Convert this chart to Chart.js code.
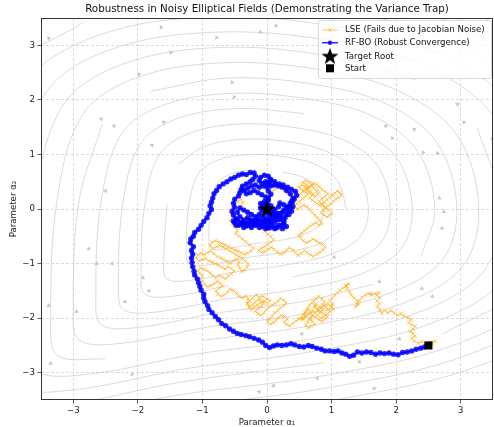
<!DOCTYPE html>
<html>
<head>
<meta charset="utf-8">
<script src="https://cdn.jsdelivr.net/npm/chart.js@4.4.1/dist/chart.umd.min.js"></script>
<style>
  html, body { margin: 0; padding: 0; background: #fff; }
  canvas { display: block; }
</style>
</head>
<body>
<canvas id="chart" width="494" height="427"></canvas>
<script>
// ---- data ----
const titleText = 'Robustness in Noisy Elliptical Fields (Demonstrating the Variance Trap)';
const xTicks = [-3, -2, -1, 0, 1, 2, 3];
const yTicks = [-3, -2, -1, 0, 1, 2, 3];
const targetRoot = [0, 0];
const startPoint = [2.5, -2.5];

// LSE trajectory (noisy random walk)
const lsePath = [
  [2.5,-2.5],[2.56,-2.46],[2.6,-2.42],[2.53,-2.44],[2.46,-2.47],[2.4,-2.43],[2.34,-2.46],[2.28,-2.42],[2.24,-2.37],[2.29,-2.33],
  [2.26,-2.28],[2.21,-2.25],[2.26,-2.2],[2.3,-2.15],[2.24,-2.12],[2.19,-2.08],[2.23,-2.03],[2.18,-1.99],[2.12,-1.96],[2.08,-1.92],
  [2.02,-1.95],[1.97,-1.9],[1.92,-1.86],[1.87,-1.9],[1.82,-1.86],[1.78,-1.91],[1.75,-1.85],[1.71,-1.79],[1.74,-1.73],[1.7,-1.68],
  [1.75,-1.63],[1.7,-1.58],[1.73,-1.53],[1.67,-1.55],[1.62,-1.58],[1.57,-1.55],[1.52,-1.58],[1.47,-1.62],[1.43,-1.68],[1.39,-1.74],
  [1.37,-1.79],[1.42,-1.75],[1.4,-1.68],[1.35,-1.63],[1.31,-1.58],[1.28,-1.52],[1.24,-1.46],[1.22,-1.4],[1.27,-1.37],[1.23,-1.41],
  [1.18,-1.45],[1.13,-1.49],[1.09,-1.53],[1.05,-1.58],
  [1.01,-1.63],[0.97,-1.68],[1.02,-1.74],[0.99,-1.8],[0.95,-1.85],[0.91,-1.8],[0.86,-1.76],[0.89,-1.7],[0.85,-1.65],[0.8,-1.6],
  [0.76,-1.64],[0.72,-1.69],[0.76,-1.74],[0.73,-1.8],[0.78,-1.84],[0.83,-1.88],[0.88,-1.92],[0.93,-1.97],[0.9,-2.02],[0.85,-2.06],
  [0.8,-2.03],[0.76,-1.98],[0.71,-1.95],[0.67,-2.0],[0.7,-2.06],[0.74,-2.11],[0.69,-2.15],[0.64,-2.18],[0.6,-2.13],[0.63,-2.07],
  [0.66,-2.02],[0.7,-1.96],[0.68,-1.9],[0.64,-1.85],[0.6,-1.88],[0.57,-1.93],[0.6,-1.98],[0.56,-2.03],[0.52,-2.0],[0.55,-1.95],
  [0.59,-1.9],[0.63,-1.82],[0.66,-1.76],[0.7,-1.72],[0.75,-1.78],[0.81,-1.8],[0.86,-1.84],[0.82,-1.9],[0.78,-1.95],[0.83,-2.0],
  [0.88,-1.97],[0.94,-1.92],[0.98,-1.88],[1.03,-1.84],[1.0,-1.78],[0.95,-1.74],[0.9,-1.76],[0.85,-1.8],[0.8,-1.85],[0.75,-1.9],
  [0.7,-1.86],[0.65,-1.92],[0.6,-1.96],[0.56,-2.0],[0.5,-2.02],
  [0.45,-2.05],[0.4,-2.1],[0.35,-2.14],[0.3,-2.12],[0.27,-2.07],[0.31,-2.02],[0.27,-1.97],[0.22,-1.95],[0.18,-1.99],[0.14,-2.04],
  [0.1,-2.08],[0.05,-2.11],[0.01,-2.07],[0.04,-2.01],[0.08,-1.96],[0.12,-1.9],[0.17,-1.86],[0.21,-1.81],[0.26,-1.77],[0.3,-1.72],
  [0.26,-1.67],[0.21,-1.64],[0.17,-1.69],[0.13,-1.73],[0.08,-1.76],[0.03,-1.8],[-0.01,-1.85],[-0.05,-1.9],[-0.09,-1.95],[-0.14,-1.92],
  [-0.18,-1.87],[-0.14,-1.82],[-0.09,-1.78],[-0.05,-1.74],[-0.08,-1.69],[-0.13,-1.66],[-0.18,-1.7],[-0.22,-1.75],[-0.26,-1.79],[-0.3,-1.74],
  [-0.27,-1.68],[-0.22,-1.63],[-0.17,-1.58],[-0.12,-1.62],[-0.06,-1.6],[0.0,-1.64],[0.05,-1.68],[0.01,-1.73],[-0.04,-1.69],[-0.1,-1.72],
  [-0.15,-1.76],[-0.2,-1.8],[-0.24,-1.85],[-0.28,-1.8],[-0.31,-1.72],[-0.29,-1.64],[-0.33,-1.6],[-0.38,-1.63],[-0.43,-1.6],
  [-0.47,-1.55],[-0.52,-1.5],[-0.57,-1.47],[-0.61,-1.52],[-0.66,-1.57],[-0.71,-1.6],[-0.76,-1.56],[-0.79,-1.5],[-0.74,-1.45],[-0.69,-1.41],
  [-0.72,-1.36],[-0.77,-1.33],[-0.82,-1.37],[-0.87,-1.4],[-0.92,-1.43],[-0.96,-1.38],[-1.0,-1.33],[-1.04,-1.28],[-1.0,-1.23],[-1.04,-1.18],
  [-1.07,-1.13],[-1.03,-1.08],[-0.98,-1.1],[-0.93,-1.13],[-0.88,-1.17],[-0.84,-1.22],[-0.79,-1.26],[-0.74,-1.22],[-0.69,-1.25],[-0.64,-1.28],
  [-0.6,-1.23],[-0.55,-1.19],[-0.51,-1.14],[-0.55,-1.09],[-0.6,-1.06],[-0.65,-1.1],[-0.7,-1.07],[-0.75,-1.03],[-0.8,-1.0],[-0.85,-0.97],
  [-0.9,-0.95],[-0.95,-0.91],[-1.0,-0.93],[-1.05,-0.95],[-1.1,-0.9],[-1.07,-0.84],[-1.02,-0.81],[-0.97,-0.84],[-0.92,-0.8],[-0.87,-0.77],
  [-0.82,-0.82],[-0.77,-0.87],[-0.72,-0.9],[-0.67,-0.93],[-0.62,-0.96],[-0.57,-0.99],[-0.52,-0.95],[-0.47,-0.92],[-0.43,-0.97],[-0.45,-1.03],
  [-0.42,-1.09],[-0.39,-1.15],[-0.35,-1.12],[-0.31,-1.07],[-0.29,-1.01],[-0.33,-0.96],[-0.38,-0.91],[-0.43,-0.87],[-0.48,-0.84],[-0.53,-0.8],
  [-0.58,-0.77],[-0.63,-0.73],[-0.68,-0.7],[-0.73,-0.67],[-0.78,-0.69],[-0.83,-0.72],[-0.88,-0.67],[-0.85,-0.61],[-0.8,-0.58],[-0.75,-0.61],
  [-0.7,-0.63],[-0.65,-0.66],[-0.6,-0.69],[-0.55,-0.72],[-0.5,-0.75],[-0.45,-0.77],[-0.4,-0.8],[-0.35,-0.83],[-0.3,-0.81],[-0.25,-0.77],
  [-0.21,-0.72],
  [-0.27,-0.66],[-0.33,-0.6],[-0.38,-0.55],[-0.43,-0.5],[-0.48,-0.45],[-0.46,-0.39],[-0.5,-0.33],[-0.54,-0.27],[-0.57,-0.21],[-0.53,-0.15],
  [-0.56,-0.09],[-0.52,-0.03],[-0.55,0.03],[-0.5,0.08],[-0.45,0.13],[-0.41,0.18],[-0.37,0.12],[-0.4,0.06],[-0.36,0.0],[-0.32,-0.06],
  [-0.28,-0.12],[-0.24,-0.18],[-0.19,-0.24],[-0.14,-0.3],[-0.09,-0.35],[-0.04,-0.41],[0.01,-0.46],[0.06,-0.51],[0.1,-0.56],[0.06,-0.61],
  [0.01,-0.65],[-0.04,-0.69],[-0.09,-0.72],
  [-0.13,-0.76],[-0.08,-0.8],[-0.03,-0.78],[0.02,-0.74],[0.07,-0.7],[0.11,-0.74],[0.16,-0.79],[0.21,-0.83],[0.26,-0.8],[0.3,-0.75],
  [0.35,-0.71],[0.4,-0.75],[0.44,-0.8],[0.48,-0.85],[0.53,-0.81],[0.58,-0.76],[0.62,-0.8],[0.67,-0.84],[0.72,-0.87],[0.77,-0.83],
  [0.82,-0.79],[0.87,-0.75],[0.9,-0.7],[0.86,-0.65],[0.81,-0.62],[0.76,-0.58],[0.71,-0.55],[0.66,-0.59],[0.61,-0.62],[0.56,-0.58],
  [0.52,-0.53],[0.49,-0.48],[0.54,-0.44],[0.58,-0.4],[0.62,-0.36],[0.66,-0.32],
  [0.71,-0.28],[0.76,-0.25],[0.8,-0.3],[0.85,-0.27],[0.82,-0.21],[0.78,-0.16],[0.74,-0.11],[0.7,-0.06],[0.66,-0.01],[0.62,0.04],
  [0.57,0.07],[0.52,0.03],[0.47,0.0],[0.43,0.05],[0.46,0.1],[0.51,0.14],[0.55,0.19],[0.6,0.23],[0.63,0.28],[0.58,0.32],
  [0.53,0.36],[0.49,0.4],[0.54,0.44],[0.59,0.41],[0.63,0.37],[0.67,0.32],[0.71,0.27],[0.75,0.23],[0.79,0.27],[0.77,0.33],
  [0.73,0.38],[0.69,0.42],[0.72,0.47],[0.77,0.45],[0.81,0.41],[0.85,0.36],[0.9,0.32],[0.94,0.28],[0.9,0.23],[0.85,0.19],
  [0.81,0.14],[0.84,0.09],[0.89,0.12],[0.93,0.17],[0.97,0.21],[1.01,0.25],[1.05,0.29],[1.09,0.33],[1.13,0.3],[1.15,0.25],
  [1.11,0.21],[1.07,0.18],[1.03,0.14],[0.99,0.1],[0.95,0.06],[0.91,0.02],[0.87,-0.02],[0.84,-0.07],[0.88,-0.11],[0.93,-0.15],
  [0.97,-0.12],[1.0,-0.07],[0.96,-0.02],[0.91,0.03],[0.86,0.06],[0.8,0.08],[0.75,0.12],[0.7,0.16],[0.66,0.2],[0.7,0.25],
  [0.66,0.3],[0.61,0.34],[0.65,0.39],[0.6,0.45],[0.55,0.49],[0.6,0.52],[0.66,0.48],[0.7,0.44],[0.65,0.41],[0.6,0.38],
  [0.56,0.33],[0.52,0.28],[0.48,0.23],[0.45,0.18],[0.41,0.22],[0.37,0.27],[0.33,0.31],[0.28,0.34],[0.23,0.37],[0.18,0.4],
  [0.13,0.37],[0.08,0.33]
];

// RF-BO trajectory
const rfboPath = [
  [2.5,-2.5],[2.44,-2.53],[2.38,-2.55],[2.31,-2.57],[2.24,-2.6],[2.17,-2.62],[2.1,-2.63],[2.03,-2.67],[1.96,-2.66],[1.89,-2.64],
  [1.82,-2.65],[1.75,-2.64],[1.68,-2.66],[1.61,-2.63],[1.54,-2.62],[1.47,-2.64],[1.4,-2.62],[1.34,-2.68],[1.28,-2.7],[1.22,-2.66],
  [1.16,-2.64],[1.1,-2.6],[1.04,-2.61],[0.97,-2.6],[0.9,-2.6],[0.84,-2.57],[0.77,-2.55],[0.7,-2.52],[0.64,-2.5],[0.57,-2.53],
  [0.5,-2.52],[0.43,-2.49],[0.37,-2.47],[0.3,-2.49],[0.23,-2.5],[0.16,-2.49],[0.1,-2.51],[0.04,-2.54],[-0.02,-2.5],[-0.07,-2.44],
  [-0.13,-2.4],[-0.2,-2.37],[-0.27,-2.34],[-0.33,-2.32],[-0.4,-2.3],[-0.46,-2.28],[-0.52,-2.24],[-0.58,-2.2],[-0.64,-2.14],[-0.7,-2.1],
  [-0.75,-2.03],[-0.8,-1.97],[-0.85,-1.9],[-0.9,-1.84],[-0.92,-1.77],[-0.96,-1.7],[-0.98,-1.63],[-0.98,-1.56],[-1.02,-1.49],[-1.04,-1.42],
  [-1.06,-1.35],[-1.08,-1.28],[-1.12,-1.21],[-1.13,-1.14],[-1.15,-1.06],[-1.16,-0.98],[-1.17,-0.9],[-1.15,-0.83],[-1.17,-0.76],[-1.14,-0.69],
  [-1.19,-0.62],[-1.18,-0.55],[-1.14,-0.5],[-1.12,-0.43],[-1.06,-0.37],[-1.02,-0.3],[-0.98,-0.23],[-0.93,-0.16],[-0.9,-0.08],[-0.86,-0.01],
  [-0.88,0.06],[-0.86,0.13],[-0.84,0.2],[-0.82,0.28],[-0.78,0.34],[-0.74,0.41],[-0.68,0.46],[-0.62,0.5],[-0.56,0.55],[-0.5,0.58],
  [-0.44,0.62],[-0.38,0.64],[-0.32,0.63],[-0.26,0.67],[-0.2,0.66],[-0.18,0.6],[-0.22,0.54],[-0.26,0.5],[-0.32,0.46],[-0.38,0.42],
  [-0.4,0.36],[-0.42,0.3],[-0.44,0.24],[-0.5,0.18],[-0.52,0.1],[-0.5,0.03],[-0.54,-0.04],[-0.52,-0.11],[-0.48,-0.18],[-0.5,-0.25],
  [-0.44,-0.3],[-0.38,-0.27],[-0.32,-0.31],[-0.26,-0.28],[-0.2,-0.24],[-0.14,-0.28],[-0.08,-0.32],[-0.02,-0.36],[0.04,-0.35],[0.1,-0.32],
  [0.16,-0.34],[0.22,-0.3],[0.26,-0.23],[0.28,-0.16],[0.3,-0.1],[0.33,-0.03],[0.36,0.04],[0.39,0.11],[0.42,0.18],[0.46,0.25],
  [0.44,0.32],[0.38,0.36],[0.32,0.4],[0.25,0.44],[0.19,0.46],[0.12,0.5],[0.05,0.52],[-0.02,0.5],[-0.08,0.47],[-0.12,0.52],
  [-0.1,0.58],[-0.04,0.62],[0.02,0.6],[0.06,0.54],[0.04,0.46],[0.0,0.4],[0.02,0.33],[0.06,0.27],[0.02,0.2],[-0.04,0.14],
  [-0.1,0.1],[-0.06,0.04],[0.0,-0.02],[0.06,-0.06],[0.12,-0.02],[0.18,0.04],[0.2,0.11],[0.26,0.08],[0.3,0.02],[0.24,-0.06],
  [0.18,-0.12],[0.12,-0.18],[0.06,-0.22],[0.0,-0.18],[-0.06,-0.14],[-0.12,-0.1],[-0.18,-0.14],[-0.24,-0.1],[-0.3,-0.06],[-0.36,-0.02],
  [-0.42,0.02],[-0.46,-0.06],[-0.42,-0.14],[-0.36,-0.2],[-0.3,-0.16],[-0.24,-0.2],[-0.18,-0.22],[-0.12,-0.18],[-0.06,-0.24],[0.0,-0.28],
  [0.06,-0.26],[0.12,-0.24],[0.18,-0.2],[0.22,-0.14],[0.16,-0.08],[0.1,-0.1],[0.04,-0.12],[-0.02,-0.08],[-0.08,-0.04],[-0.1,0.02],
  [-0.06,0.08],[0.0,0.1],[0.06,0.06],[0.1,0.0],[0.04,-0.04],[-0.02,0.0],[0.0,0.04],[0.02,0.0],
  [0.08,-0.04],[0.14,-0.1],[0.2,-0.18],[0.26,-0.26],[0.3,-0.32],[0.24,-0.36],[0.18,-0.3],[0.12,-0.36],[0.06,-0.3],[0.0,-0.34],
  [-0.06,-0.3],[-0.12,-0.34],[-0.18,-0.3],[-0.24,-0.34],[-0.3,-0.3],[-0.36,-0.34],[-0.42,-0.28],[-0.48,-0.3],[-0.52,-0.22],[-0.46,-0.2],
  [-0.4,-0.24],[-0.34,-0.26],[-0.28,-0.22],[-0.22,-0.26],[-0.16,-0.2],[-0.1,-0.24],[-0.04,-0.2],[0.02,-0.22],[0.08,-0.16],[0.14,-0.14],
  [0.2,-0.08],[0.26,-0.02],[0.32,0.04],[0.36,0.1],[0.4,0.04],[0.38,-0.04],[0.34,-0.1],[0.38,0.14],[0.4,0.2],[0.36,0.28],
  [0.3,0.34],[0.24,0.4],[0.18,0.42],[0.12,0.44],[0.06,0.42],[0.0,0.46],[-0.06,0.42],[-0.12,0.4],[-0.18,0.44],[-0.24,0.42],
  [-0.3,0.38],[-0.36,0.34],[-0.32,0.28],[-0.26,0.3],[-0.2,0.34],[-0.14,0.3],[-0.08,0.26],[-0.02,0.22],[0.02,0.16],[0.0,0.08],
  [-0.04,0.02],[0.0,0.0]
];

// background streamlines of the field, traced by eye (one broken loop per lane)
const streamlines = [
  [[0.23,0.68],[0.56,0.58],[0.79,0.36],[0.88,0.0],[0.81,-0.29],[0.56,-0.47],[0.18,-0.58],[-0.27,-0.65],[-0.68,-0.74],[-0.87,-0.72],[-0.9,-0.54],[-0.87,0.05],[-0.77,0.47],[-0.54,0.65],[-0.18,0.72]],
  [[1.13,-0.4],[0.78,-0.65],[0.25,-0.8],[-0.38,-0.9],[-0.94,-1.03],[-1.21,-1.0],[-1.25,-0.75],[-1.21,0.06],[-1.06,0.65],[-0.75,0.9],[-0.25,1.0],[0.31,0.95],[0.78,0.8],[1.1,0.5],[1.23,0.0]],
  [[-1.36,0.83],[-0.96,1.15],[-0.32,1.28],[0.4,1.22],[0.99,1.02],[1.41,0.64],[1.57,0.0],[1.44,-0.51],[0.99,-0.83],[0.32,-1.02],[-0.48,-1.15],[-1.2,-1.31],[-1.55,-1.28],[-1.6,-0.96],[-1.55,0.08]],
  [[-0.59,-1.4],[-1.46,-1.6],[-1.89,-1.56],[-1.95,-1.17],[-1.89,0.1],[-1.66,1.01],[-1.17,1.4],[-0.39,1.56],[0.49,1.48],[1.21,1.25],[1.72,0.78],[1.91,0.0],[1.76,-0.62],[1.21,-1.01],[0.39,-1.25]],
  [[1.43,1.47],[2.02,0.92],[2.25,0.0],[2.07,-0.74],[1.43,-1.2],[0.46,-1.47],[-0.69,-1.66],[-1.73,-1.89],[-2.23,-1.84],[-2.3,-1.38],[-2.23,0.12],[-1.96,1.2],[-1.38,1.66],[-0.46,1.84],[0.58,1.75]],
  [[1.64,-1.38],[0.53,-1.7],[-0.8,-1.91],[-1.99,-2.17],[-2.57,-2.12],[-2.65,-1.59],[-2.57,0.13],[-2.25,1.38],[-1.59,1.91],[-0.53,2.12],[0.66,2.01],[1.64,1.7],[2.33,1.06],[2.6,0.0],[2.39,-0.85]],
  [[-1.8,2.16],[-0.6,2.4],[0.75,2.28],[1.86,1.92],[2.64,1.2],[2.94,0.0],[2.7,-0.96],[1.86,-1.56],[0.6,-1.92],[-0.9,-2.16],[-2.25,-2.46],[-2.91,-2.4],[-3.0,-1.8],[-2.91,0.15],[-2.55,1.56]],
  [[-2.51,-2.75],[-3.25,-2.68],[-3.35,-2.01],[-3.25,0.17],[-2.85,1.74],[-2.01,2.41],[-0.67,2.68],[0.84,2.55],[2.08,2.14],[2.95,1.34],[3.28,0.0],[3.02,-1.07],[2.08,-1.74],[0.67,-2.14],[-1.01,-2.41]],
  [[3.26,1.48],[3.63,0.0],[3.33,-1.18],[2.29,-1.92],[0.74,-2.37],[-1.11,-2.66],[-2.78,-3.03],[-3.59,-2.96],[-3.7,-2.22],[-3.59,0.19],[-3.15,1.92],[-2.22,2.66],[-0.74,2.96],[0.93,2.81],[2.29,2.37]],
  [[-3.93,0.2],[-3.44,2.11],[-2.43,2.92],[-0.81,3.24],[1.01,3.08],[2.51,2.59],[3.56,1.62],[3.97,0.0],[3.65,-1.3],[2.51,-2.11],[0.81,-2.59],[-1.22,-2.92],[-3.04,-3.32],[-3.93,-3.24],[-4.05,-2.43]],
  [[0.88,-2.82],[-1.32,-3.17],[-3.3,-3.61],[-4.27,-3.52],[-4.4,-2.64],[-4.27,0.22],[-3.74,2.29],[-2.64,3.17],[-0.88,3.52],[1.1,3.34],[2.73,2.82],[3.87,1.76],[4.31,0.0],[3.96,-1.41],[2.73,-2.29]],
  [[-0.95,3.8],[1.19,3.61],[2.95,3.04],[4.18,1.9],[4.66,0.0],[4.28,-1.52],[2.95,-2.47],[0.95,-3.04],[-1.43,-3.42],[-3.56,-3.9],[-4.61,-3.8],[-4.75,-2.85],[-4.61,0.24],[-4.04,2.47],[-2.85,3.42]],
  [[5.0,0.0],[4.59,-1.63],[3.16,-2.65],[1.02,-3.26],[-1.53,-3.67],[-3.83,-4.18],[-4.95,-4.08],[-5.1,-3.06],[-4.95,0.26],[-4.34,2.65],[-3.06,3.67],[-1.02,4.08],[1.28,3.88],[3.16,3.26],[4.49,2.04]],
  [[-5.45,-3.27],[-5.29,0.27],[-4.63,2.83],[-3.27,3.92],[-1.09,4.36],[1.36,4.14],[3.38,3.49],[4.8,2.18],[5.34,0.0],[4.91,-1.74],[3.38,-2.83],[1.09,-3.49],[-1.64,-3.92],[-4.09,-4.47],[-5.29,-4.36]]
];

// flow arrows: x, y, heading in degrees (0 = up, clockwise)
const arrows = [
  [-3.38,3.13,75],[-1.64,3.33,88],[-0.78,3.14,92],[-1.49,2.87,85],[-0.1,3.24,100],[0.14,3.36,100],
  [-1.98,2.47,70],[-0.54,2.32,95],[-0.51,2.05,95],[-2.57,1.65,60],[-2.37,1.52,60],[-1.6,1.59,70],
  [-1.78,1.17,55],[-2.5,0.33,35],[-2.76,-0.73,20],[-2.64,-1.0,15],[-2.4,-1.0,15],[-3.38,-1.77,5],
  [-2.95,-1.88,5],[-2.2,-1.7,5],[-1.92,-1.26,10],[-1.83,-1.5,5],[-3.35,-2.83,0],[-2.09,-3.03,345],
  [1.84,1.52,180],[1.94,1.3,190],[2.28,1.46,185],[2.95,1.92,170],[3.05,1.59,185],[2.42,1.04,215],
  [2.64,1.02,215],[3.49,1.28,200],[2.67,0.2,235],[2.74,-0.05,240],[2.71,-0.35,240],[1.04,-0.88,265],
  [1.74,-1.33,255],[1.61,-1.55,260],[2.4,-1.46,250],[2.56,-1.6,250],[0.54,-2.29,270],[2.05,-2.38,255],
  [1.43,-2.8,265],[0.78,-3.1,275],[1.66,-3.29,270],[-0.12,-3.35,280],[0.1,-3.24,280]
];

// ---- drawing ----
const FONT = "'DejaVu Sans', sans-serif";
const FS = 8.6;
const toXY = pts => pts.map(p => ({ x: p[0], y: p[1] }));
const fmtTick = v => (v < 0 ? '\u2212' + Math.abs(v) : String(v));

function starImage(size) {
  const c = document.createElement('canvas');
  c.width = c.height = size;
  const g = c.getContext('2d');
  g.fillStyle = '#000';
  g.beginPath();
  for (let i = 0; i < 10; i++) {
    const r = i % 2 ? size * 0.2 : size * 0.5;
    const a = -Math.PI / 2 + i * Math.PI / 5;
    g.lineTo(size / 2 + r * Math.cos(a), size / 2 + 0.5 + r * Math.sin(a));
  }
  g.closePath();
  g.fill();
  return c;
}
const star = starImage(18);

const ORANGE = 'rgba(255,165,0,0.6)';
const BLUE = 'rgba(0,0,255,0.85)';

const datasets = [
  { label: 'Target Root', data: toXY([targetRoot]), pointStyle: star, pointRadius: 9, order: 0 },
  { label: 'Start', data: toXY([startPoint]), pointStyle: 'rect', pointRadius: 5.7,
    backgroundColor: '#000', borderColor: '#000', borderWidth: 0, order: 0 },
  { label: 'RF-BO (Robust Convergence)', data: toXY(rfboPath), showLine: true,
    borderColor: BLUE, borderWidth: 1.5, pointRadius: 2.7, pointBackgroundColor: BLUE,
    pointBorderWidth: 0, order: 1 },
  { label: 'LSE (Fails due to Jacobian Noise)', data: toXY(lsePath), showLine: true,
    borderColor: ORANGE, borderWidth: 0.9, pointStyle: 'crossRot', pointRadius: 2.6,
    pointBorderColor: ORANGE, pointBorderWidth: 0.9, order: 2 },
  { label: 'arrows', data: toXY(arrows), pointStyle: 'triangle', pointRadius: 2.6,
    pointRotation: arrows.map(a => a[2]), backgroundColor: '#c8c8c8', borderWidth: 0, order: 3 }
];
streamlines.forEach(line => {
  datasets.push({ label: 'stream', data: toXY(line), showLine: true, borderColor: 'rgba(200,200,200,0.65)',
    borderWidth: 1, pointRadius: 0, tension: 0.35, order: 4 });
});

const frameAndLegend = {
  id: 'frameAndLegend',
  afterDraw(chart) {
    const { ctx, chartArea: a } = chart;
    ctx.save();
    ctx.strokeStyle = '#333';
    ctx.lineWidth = 1;
    ctx.strokeRect(a.left + 0.5, a.top + 0.5, a.right - a.left - 1, a.bottom - a.top - 1);

    ctx.fillStyle = '#111';
    ctx.font = '10.3px ' + FONT;
    ctx.textAlign = 'center';
    ctx.textBaseline = 'middle';
    ctx.fillText(titleText, (a.left + a.right) / 2, 9.5);

    // legend box
    const bx = 318, by = 20, bw = 173, bh = 58;
    ctx.fillStyle = 'rgba(255,255,255,0.8)';
    ctx.strokeStyle = '#cfcfcf';
    ctx.lineWidth = 0.8;
    ctx.beginPath();
    ctx.roundRect(bx + 0.5, by + 0.5, bw, bh, 2);
    ctx.fill();
    ctx.stroke();

    const rows = [30, 42.7, 56.3, 68.3];
    const x0 = 322, x1 = 338, xm = 330;
    ctx.lineWidth = 1;
    ctx.strokeStyle = ORANGE;
    ctx.beginPath(); ctx.moveTo(x0, rows[0]); ctx.lineTo(x1, rows[0]); ctx.stroke();
    ctx.beginPath();
    ctx.moveTo(xm - 1.8, rows[0] - 1.8); ctx.lineTo(xm + 1.8, rows[0] + 1.8);
    ctx.moveTo(xm + 1.8, rows[0] - 1.8); ctx.lineTo(xm - 1.8, rows[0] + 1.8);
    ctx.stroke();
    ctx.strokeStyle = BLUE; ctx.fillStyle = BLUE; ctx.lineWidth = 1.5;
    ctx.beginPath(); ctx.moveTo(x0, rows[1]); ctx.lineTo(x1, rows[1]); ctx.stroke();
    ctx.beginPath(); ctx.arc(xm, rows[1], 2.2, 0, Math.PI * 2); ctx.fill();
    ctx.drawImage(star, xm - 9, rows[2] - 9);
    ctx.fillStyle = '#000';
    ctx.fillRect(xm - 4, rows[3] - 4, 8, 8);

    ctx.fillStyle = '#111';
    ctx.font = FS + 'px ' + FONT;
    ctx.textAlign = 'left';
    ctx.fillText('LSE (Fails due to Jacobian Noise)', 345, rows[0]);
    ctx.fillText('RF-BO (Robust Convergence)', 345, rows[1]);
    ctx.fillText('Target Root', 345, rows[2]);
    ctx.fillText('Start', 345, rows[3]);
    ctx.restore();
  }
};

function axis(ticks, isX) {
  return {
    type: 'linear', min: -3.5, max: 3.5,
    afterBuildTicks: s => { s.ticks = ticks.map(v => ({ value: v })); },
    afterFit: s => { if (isX) s.height = 27; else s.width = 41; },
    grid: { color: 'rgba(175,175,175,0.55)', lineWidth: 0.8, tickLength: 3.5, tickColor: '#333', tickWidth: 0.8 },
    border: { display: false, dash: [3, 2] },
    ticks: { font: { family: FONT, size: FS }, color: '#222', padding: 2.5, maxRotation: 0, autoSkip: false, callback: fmtTick },
    title: { display: true, text: isX ? 'Parameter α₁' : 'Parameter α₂', font: { family: FONT, size: FS, lineHeight: 1 }, color: '#222',
      padding: isX ? { top: 0, bottom: 0 } : { top: 9, bottom: 0 } }
  };
}

new Chart(document.getElementById('chart'), {
  type: 'scatter',
  data: { datasets },
  options: {
    responsive: false, animation: false, devicePixelRatio: 1,
    layout: { autoPadding: false, padding: { top: 18, right: 1, left: 0, bottom: 0 } },
    plugins: { legend: { display: false }, tooltip: { enabled: false }, title: { display: false } },
    scales: { x: axis(xTicks, true), y: axis(yTicks, false) }
  },
  plugins: [frameAndLegend]
});
</script>
</body>
</html>
